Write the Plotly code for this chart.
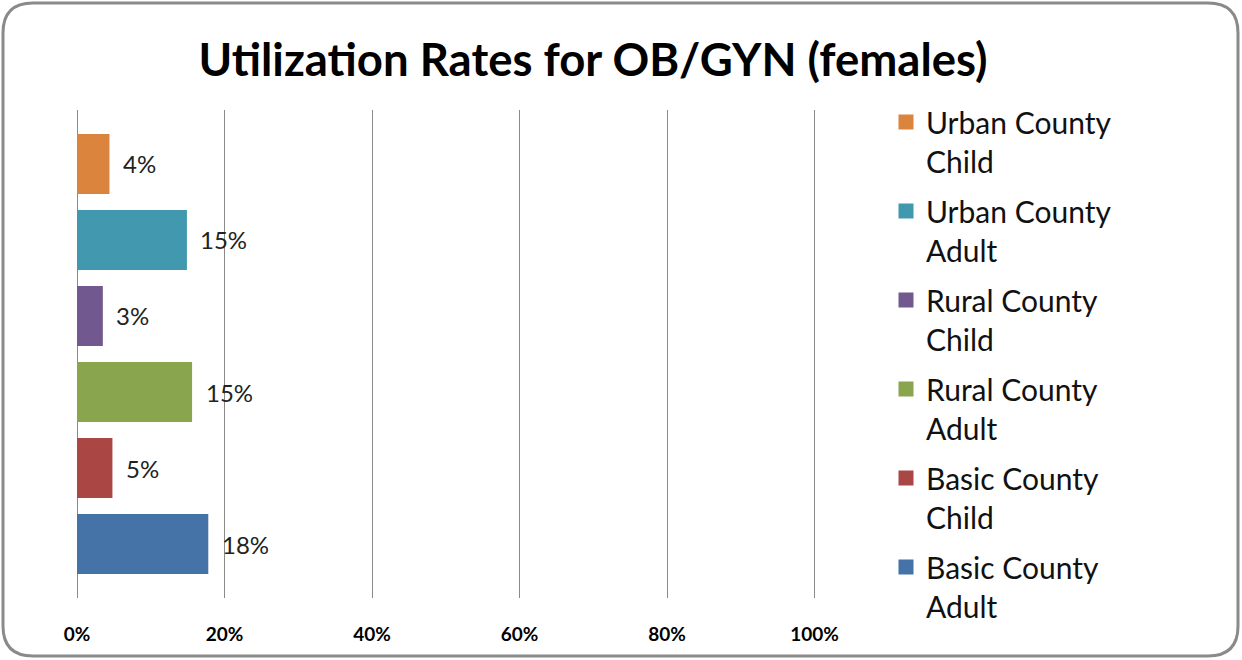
import plotly.graph_objects as go

# ---- data ----
series_names = ["Urban County<br>Child", "Urban County<br>Adult", "Rural County<br>Child",
                "Rural County<br>Adult", "Basic County<br>Child", "Basic County<br>Adult"]
series_values = [0.042, 0.147, 0.033, 0.154, 0.046, 0.176]
series_colors = ["#DB843D", "#4198AF", "#71588F", "#89A54E", "#AA4643", "#4572A7"]
tick_values = [0, 0.2, 0.4, 0.6, 0.8, 1.0]
tick_labels = ["0%", "20%", "40%", "60%", "80%", "100%"]
title_text = "Utilization Rates for OB/GYN (females)"

W, H = 1242, 660
ML, MR, MT, MB = 77, 426, 110, 62
PW, PH = W - ML - MR, H - MT - MB
FONT = "Lato, Carlito, 'Open Sans', sans-serif"


def px(x):
    return (x - ML) / PW


def py(y):
    return (H - MB - y) / PH


fig = go.Figure()
for name, val, col in zip(series_names, series_values, series_colors):
    fig.add_trace(go.Bar(
        x=[val], y=[name], orientation="h", name=name, width=0.75,
        marker=dict(color=col, line=dict(width=3, color=col)),
        legendgroup=name, hoverinfo="x+name",
    ))
    fig.add_annotation(
        x=val, y=name, xref="x", yref="y", text=f"{val:.0%}", showarrow=False,
        xanchor="left", yanchor="middle", xshift=13,
        font=dict(family=FONT, size=24, color="#222222"),
    )

# rounded frame
L, R, T, B, r = 3, 1238, 3, 656, 30
path = (f"M{px(L+r)},{py(T)} L{px(R-r)},{py(T)} Q{px(R)},{py(T)} {px(R)},{py(T+r)} "
        f"L{px(R)},{py(B-r)} Q{px(R)},{py(B)} {px(R-r)},{py(B)} "
        f"L{px(L+r)},{py(B)} Q{px(L)},{py(B)} {px(L)},{py(B-r)} "
        f"L{px(L)},{py(T+r)} Q{px(L)},{py(T)} {px(L+r)},{py(T)} Z")
fig.add_shape(type="path", path=path, xref="paper", yref="paper",
              line=dict(color="#8A8A8A", width=3), layer="above")

fig.update_layout(
    width=W, height=H,
    margin=dict(l=ML, r=MR, t=MT, b=MB),
    paper_bgcolor="white", plot_bgcolor="white",
    barmode="overlay",
    title=dict(text=f"<b>{title_text}</b>", x=px(593), xref="paper", xanchor="center",
               y=1 - 60 / H, yref="container", yanchor="middle",
               font=dict(family=FONT, size=45.5, color="#000000")),
    xaxis=dict(range=[0, 1.002], tickvals=tick_values, ticktext=tick_labels,
               showgrid=True, gridcolor="#8A8A8A", gridwidth=1,
               zeroline=True, zerolinecolor="#8A8A8A", zerolinewidth=1,
               showline=False, ticks="", ticklabelstandoff=23,
               tickfont=dict(family=FONT, size=19, color="#000000", weight="bold")),
    yaxis=dict(categoryorder="array", categoryarray=series_names[::-1],
               range=[-0.71, 5.71], showticklabels=False, showgrid=False,
               zeroline=False, showline=False, ticks=""),
    legend=dict(x=px(886), xanchor="left", y=py(96), yanchor="top",
                traceorder="grouped", valign="top", tracegroupgap=8,
                maxheight=640,
                font=dict(family=FONT, size=30, color="#111111"),
                bgcolor="rgba(0,0,0,0)"),
    showlegend=True,
)

fig.write_html("out.html", config={"displayModeBar": False},
               post_script="document.body.style.margin='0';document.body.style.overflow='hidden';")
